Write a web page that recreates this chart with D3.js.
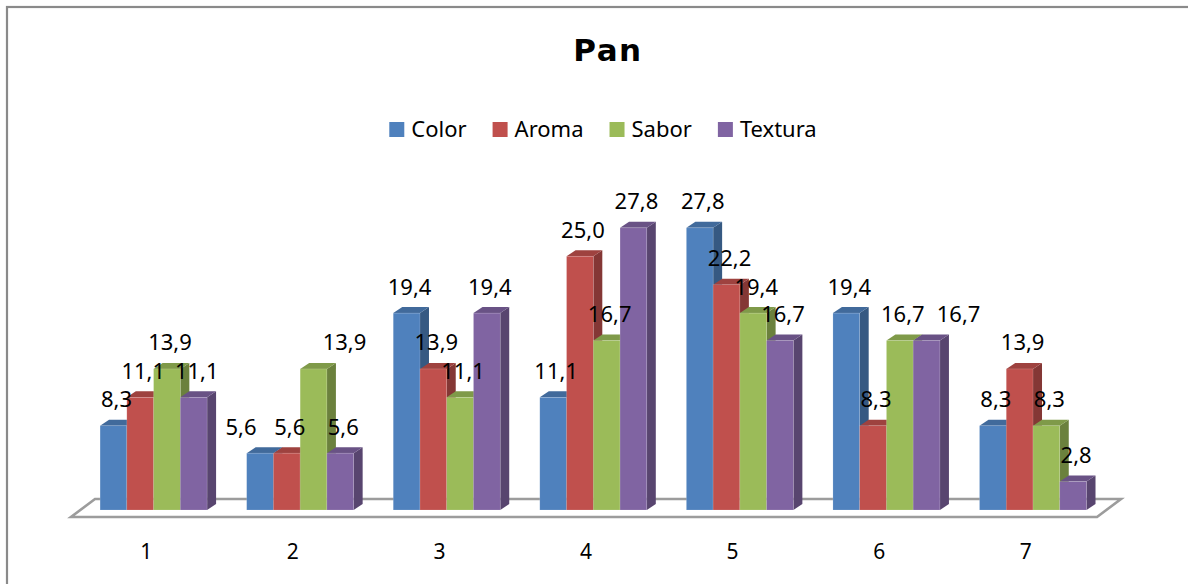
<!DOCTYPE html>
<html>
<head>
<meta charset="utf-8">
<script src="https://cdn.jsdelivr.net/npm/d3@7"></script>
<style>
  html, body { margin: 0; padding: 0; background: #fff; }
  svg { display: block; }
</style>
</head>
<body>
<svg id="chart" width="1188" height="584"></svg>
<script>
// Chart data
const title = "Pan";
const categories = ["1", "2", "3", "4", "5", "6", "7"];
const seriesNames = ["Color", "Aroma", "Sabor", "Textura"];
const colorValues   = [8.3, 5.6, 19.4, 11.1, 27.8, 19.4, 8.3];
const aromaValues   = [11.1, 5.6, 13.9, 25.0, 22.2, 8.3, 13.9];
const saborValues   = [13.9, 13.9, 11.1, 16.7, 19.4, 16.7, 8.3];
const texturaValues = [11.1, 5.6, 19.4, 27.8, 16.7, 16.7, 2.8];
const seriesColors = ["#4F81BD", "#C0504D", "#9BBB59", "#8064A2"];
const valueDomain = [0, 30];

const seriesValues = [colorValues, aromaValues, saborValues, texturaValues];

// Hand-moved data labels (horizontal nudge in px), keyed by category|series
const labelNudge = { "2|Color": -22, "2|Sabor": 28, "6|Textura": 29 };

const svg = d3.select("#chart");
const font = "'Noto Sans', 'Open Sans', sans-serif";

// Outer chart frame (runs past the right and bottom edges)
svg.append("rect")
  .attr("x", 7).attr("y", 7)
  .attr("width", 1300).attr("height", 700)
  .attr("fill", "#fff")
  .attr("stroke", "#8a8a8a").attr("stroke-width", 2.2);

// Title
svg.append("text")
  .attr("x", 608).attr("y", 61)
  .attr("text-anchor", "middle")
  .attr("font-family", "'DejaVu Sans', sans-serif")
  .attr("font-weight", "bold")
  .attr("font-size", 31)
  .attr("letter-spacing", 1.5)
  .attr("fill", "#000")
  .text(title);

// Legend, laid out left to right and centred
const legend = svg.append("g");
let lx = 0;
const itemGap = 26, boxSize = 15, boxGap = 7;
seriesNames.forEach((name, i) => {
  const g = legend.append("g").attr("transform", `translate(${lx},0)`);
  g.append("rect")
    .attr("x", 0).attr("y", -15)
    .attr("width", boxSize).attr("height", boxSize)
    .attr("fill", seriesColors[i]);
  const t = g.append("text")
    .attr("x", boxSize + boxGap).attr("y", 0)
    .attr("font-family", font).attr("font-size", 22)
    .attr("fill", "#000")
    .text(name);
  lx += boxSize + boxGap + t.node().getComputedTextLength() + itemGap;
});
const legendWidth = lx - itemGap;
legend.attr("transform", `translate(${603 - legendWidth / 2},137)`);

// 3D geometry: floor plane and bar depth
const floorLeft = 71, floorRight = 1097, floorFrontY = 517;
const floorDepth = { dx: 24, dy: -18 };
const barOffset = { dx: 9.3, dy: -7 };   // bar front face sits behind the floor front edge
const barDepth = { dx: 9, dy: -6 };
const baseY = floorFrontY + barOffset.dy;

const x = d3.scaleBand()
  .domain(categories)
  .range([floorLeft, floorRight])
  .paddingInner(0.27)
  .paddingOuter(0.135);

const xSeries = d3.scaleBand()
  .domain(seriesNames)
  .range([0, x.bandwidth()])
  .padding(0);

const y = d3.scaleLinear()
  .domain(valueDomain)
  .range([baseY, baseY - 304.5]);

// Floor
const floorPts = [
  [floorLeft, floorFrontY],
  [floorRight, floorFrontY],
  [floorRight + floorDepth.dx, floorFrontY + floorDepth.dy],
  [floorLeft + floorDepth.dx, floorFrontY + floorDepth.dy]
];
svg.append("polygon")
  .attr("points", floorPts.map(p => p.join(",")).join(" "))
  .attr("fill", "#fff")
  .attr("stroke", "#9c9c9c")
  .attr("stroke-width", 2.6)
  .attr("stroke-linejoin", "miter");

// Bars: each drawn as side, top and front faces
const bars = svg.append("g");
const fmt = v => d3.format(".1f")(v).replace(".", ",");
const labels = [];

categories.forEach((cat, ci) => {
  seriesNames.forEach((name, si) => {
    const v = seriesValues[si][ci];
    const x0 = x(cat) + xSeries(name) + barOffset.dx;
    const x1 = x0 + xSeries.bandwidth();
    const yTop = y(v), yBot = y(0);
    const c = d3.color(seriesColors[si]);
    const g = bars.append("g");
    // right side face
    g.append("polygon")
      .attr("points", [
        [x1, yBot], [x1 + barDepth.dx, yBot + barDepth.dy],
        [x1 + barDepth.dx, yTop + barDepth.dy], [x1, yTop]
      ].map(p => p.join(",")).join(" "))
      .attr("fill", c.darker(1.05));
    // top face
    g.append("polygon")
      .attr("points", [
        [x0, yTop], [x1, yTop],
        [x1 + barDepth.dx, yTop + barDepth.dy], [x0 + barDepth.dx, yTop + barDepth.dy]
      ].map(p => p.join(",")).join(" "))
      .attr("fill", c.darker(0.55));
    // front face
    g.append("rect")
      .attr("x", x0).attr("y", yTop)
      .attr("width", x1 - x0).attr("height", yBot - yTop)
      .attr("fill", seriesColors[si])
      .attr("stroke", "rgba(255,255,255,0.25)")
      .attr("stroke-width", 0.6);
    const nudge = labelNudge[`${cat}|${name}`] || 0;
    labels.push({ x: (x0 + x1) / 2 + 3 + nudge, y: yTop - 18.5, text: fmt(v) });
  });
});

// Data labels
svg.append("g")
  .selectAll("text")
  .data(labels)
  .join("text")
  .attr("x", d => d.x)
  .attr("y", d => d.y)
  .attr("text-anchor", "middle")
  .attr("font-family", font)
  .attr("font-size", 22)
  .attr("fill", "#000")
  .text(d => d.text);

// Category axis labels
svg.append("g")
  .selectAll("text")
  .data(categories)
  .join("text")
  .attr("x", d => x(d) + x.bandwidth() / 2 + 2)
  .attr("y", 559)
  .attr("text-anchor", "middle")
  .attr("font-family", font)
  .attr("font-size", 21)
  .attr("fill", "#000")
  .text(d => d);
</script>
</body>
</html>
